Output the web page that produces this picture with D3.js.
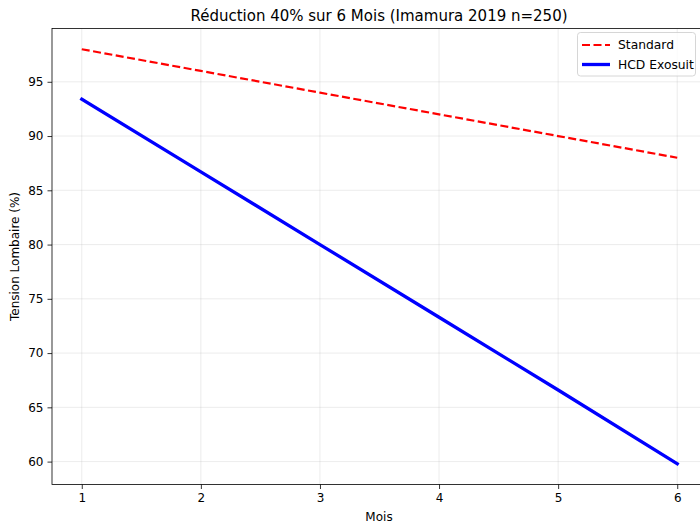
<!DOCTYPE html>
<html><head><meta charset="utf-8">
<script src="https://cdn.jsdelivr.net/npm/d3@7"></script>
<style>body{margin:0;background:#fff;} svg{display:block;font-family:"DejaVu Sans",sans-serif;}</style>
</head><body><div id="chart"></div>
<script>
const months = [1, 2, 3, 4, 5, 6];
const standard = [98, 96, 94, 92, 90, 88];
const hcd = [93.4, 86.7, 80.0, 73.3, 66.6, 59.8];
const xTicks = [1, 2, 3, 4, 5, 6];
const yTicks = [60, 65, 70, 75, 80, 85, 90, 95];
const seriesNames = ["Standard", "HCD Exosuit"];

const W = 700, H = 523;
const m = {left: 52, right: -7, top: 28.5, bottom: 38.5};
const svg = d3.select("#chart").append("svg").attr("width", W).attr("height", H);

const x = d3.scaleLinear().domain([0.75, 6.25]).range([m.left, W - m.right]);
const yMin = 57.89, yMax = 99.91;
const y = d3.scaleLinear().domain([yMin, yMax]).range([H - m.bottom, m.top]);

// grid
svg.append("g").selectAll("line").data(xTicks).join("line")
  .attr("x1", d => x(d)).attr("x2", d => x(d)).attr("y1", m.top).attr("y2", H - m.bottom)
  .attr("stroke", "#b0b0b0").attr("stroke-opacity", 0.3).attr("stroke-width", 0.8);
svg.append("g").selectAll("line").data(yTicks).join("line")
  .attr("x1", m.left).attr("x2", W - m.right).attr("y1", d => y(d)).attr("y2", d => y(d))
  .attr("stroke", "#b0b0b0").attr("stroke-opacity", 0.3).attr("stroke-width", 0.8);

// lines
const line = vals => d3.line().x((d, i) => x(months[i])).y(d => y(d))(vals);
svg.append("path").attr("d", line(standard)).attr("fill", "none")
  .attr("stroke", "#ff0000").attr("stroke-width", 2.2).attr("stroke-dasharray", "8,3.5");
svg.append("path").attr("d", line(hcd)).attr("fill", "none")
  .attr("stroke", "#0000ff").attr("stroke-width", 3.3).attr("stroke-linecap", "square");

// axes
const xAxis = d3.axisBottom(x).tickValues(xTicks).tickFormat(d3.format("d")).tickSizeOuter(0).tickSize(4.5).tickPadding(4);
const yAxis = d3.axisLeft(y).tickValues(yTicks).tickFormat(d3.format("d")).tickSizeOuter(0).tickSize(4.5).tickPadding(4);
const gx = svg.append("g").attr("transform", `translate(0,${H - m.bottom})`).call(xAxis);
const gy = svg.append("g").attr("transform", `translate(${m.left},0)`).call(yAxis);
[gx, gy].forEach(g => {
  g.selectAll("text").attr("font-size", 12).attr("fill", "#000").attr("font-family", "DejaVu Sans");
  g.selectAll("line").attr("stroke", "#000").attr("stroke-width", 0.8);
  g.select(".domain").remove();
});
// spines
svg.append("rect").attr("x", m.left).attr("y", m.top).attr("width", W - m.right - m.left)
  .attr("height", H - m.bottom - m.top).attr("fill", "none").attr("stroke", "#000").attr("stroke-width", 0.8);

// labels
svg.append("text").attr("x", (m.left + 706) / 2).attr("y", 20.5).attr("text-anchor", "middle")
  .attr("font-size", 15).text("Réduction 40% sur 6 Mois (Imamura 2019 n=250)");
svg.append("text").attr("x", (m.left + 706) / 2).attr("y", 521).attr("text-anchor", "middle")
  .attr("font-size", 12).text("Mois");
svg.append("text").attr("transform", `translate(19,${(m.top + H - m.bottom) / 2}) rotate(-90)`)
  .attr("text-anchor", "middle").attr("font-size", 12).text("Tension Lombaire (%)");

// legend
const lg = svg.append("g");
lg.append("rect").attr("x", 577.5).attr("y", 32.5).attr("width", 118).attr("height", 43.5).attr("rx", 3)
  .attr("fill", "#fff").attr("fill-opacity", 0.8).attr("stroke", "#cccccc").attr("stroke-width", 0.8);
const items = [
  {name: seriesNames[0], color: "#ff0000", w: 2.2, dash: "8,3.5"},
  {name: seriesNames[1], color: "#0000ff", w: 3.3, dash: null}
];
items.forEach((it, i) => {
  const yy = 45 + i * 19.5;
  lg.append("line").attr("x1", 582).attr("x2", 610).attr("y1", yy).attr("y2", yy)
    .attr("stroke", it.color).attr("stroke-width", it.w).attr("stroke-dasharray", it.dash);
  lg.append("text").attr("x", 618).attr("y", yy + 4.3).attr("font-size", 12.3).text(it.name);
});
</script></body></html>
